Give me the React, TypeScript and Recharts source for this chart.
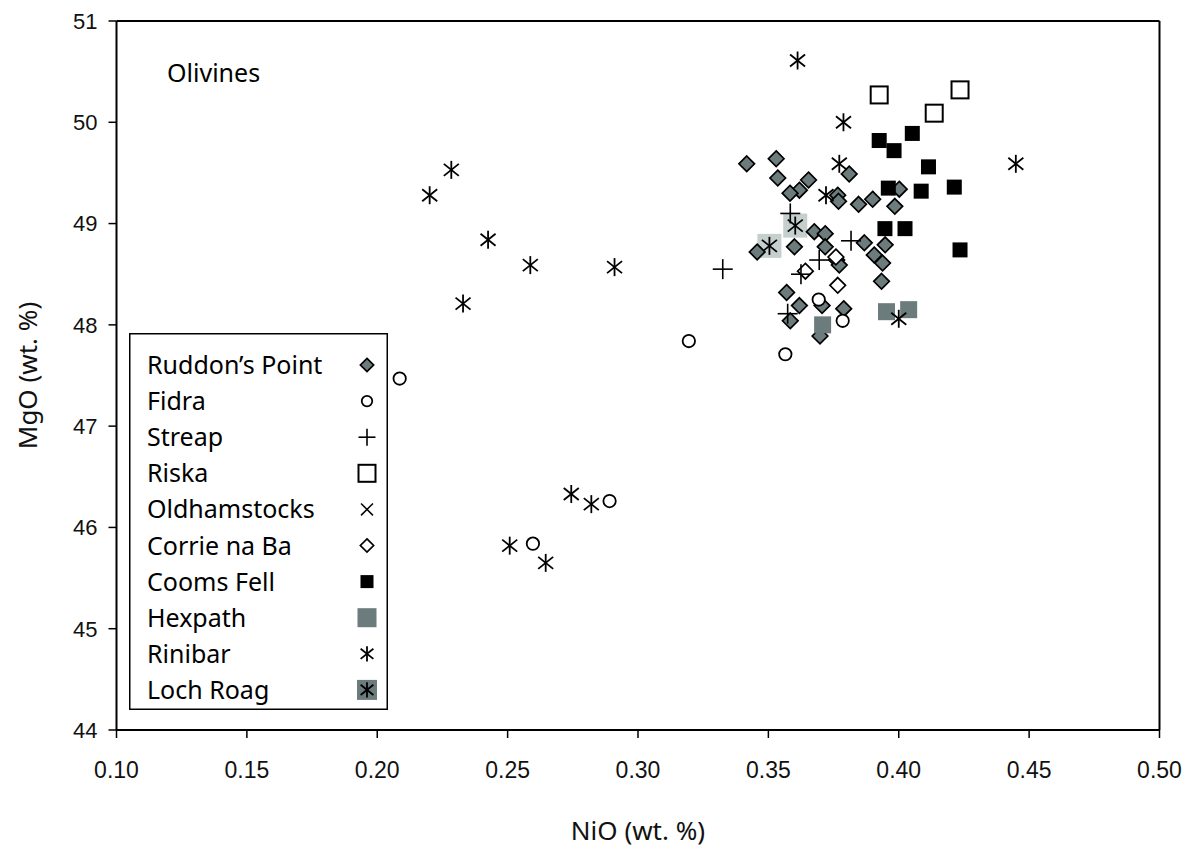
import { ScatterChart, Scatter, XAxis, YAxis, ReferenceLine, Legend } from 'recharts';

// axis ticks
const xTicks = [0.1, 0.15, 0.2, 0.25, 0.3, 0.35, 0.4, 0.45, 0.5];
const yTicks = [44, 45, 46, 47, 48, 49, 50, 51];

// NiO (x) vs MgO (y)
const ruddonsPoint = [
  { x: 0.3417, y: 49.59 }, { x: 0.353, y: 49.64 }, { x: 0.3536, y: 49.45 }, { x: 0.3654, y: 49.43 },
  { x: 0.3619, y: 49.33 }, { x: 0.3583, y: 49.3 }, { x: 0.381, y: 49.49 }, { x: 0.3766, y: 49.28 },
  { x: 0.3769, y: 49.22 }, { x: 0.3846, y: 49.19 }, { x: 0.39, y: 49.24 }, { x: 0.3985, y: 49.17 },
  { x: 0.4002, y: 49.34 }, { x: 0.3457, y: 48.72 }, { x: 0.36, y: 48.77 }, { x: 0.3676, y: 48.92 },
  { x: 0.3718, y: 48.9 }, { x: 0.3718, y: 48.77 }, { x: 0.3868, y: 48.81 }, { x: 0.3948, y: 48.79 },
  { x: 0.3906, y: 48.69 }, { x: 0.3938, y: 48.61 }, { x: 0.3934, y: 48.43 }, { x: 0.3762, y: 48.64 },
  { x: 0.3772, y: 48.59 }, { x: 0.357, y: 48.32 }, { x: 0.3619, y: 48.19 }, { x: 0.3706, y: 48.19 },
  { x: 0.3789, y: 48.16 }, { x: 0.3584, y: 48.04 }, { x: 0.3698, y: 47.89 },
];
const fidra = [
  { x: 0.2086, y: 47.47 }, { x: 0.3195, y: 47.84 }, { x: 0.2597, y: 45.84 }, { x: 0.2891, y: 46.26 },
  { x: 0.3693, y: 48.25 }, { x: 0.3785, y: 48.04 }, { x: 0.3565, y: 47.71 },
];
const streap = [
  { x: 0.3584, y: 49.1 }, { x: 0.3817, y: 48.83 }, { x: 0.3695, y: 48.64 }, { x: 0.3625, y: 48.5 },
  { x: 0.3574, y: 48.11 }, { x: 0.3325, y: 48.55 },
];
const riska = [{ x: 0.3925, y: 50.27 }, { x: 0.4235, y: 50.32 }, { x: 0.4136, y: 50.09 }];
const oldhamstocks: { x: number; y: number }[] = [];
const corrieNaBa = [{ x: 0.3759, y: 48.67 }, { x: 0.3642, y: 48.53 }, { x: 0.3766, y: 48.39 }];
const coomsFell = [
  { x: 0.3925, y: 49.82 }, { x: 0.3982, y: 49.72 }, { x: 0.4052, y: 49.89 }, { x: 0.4114, y: 49.56 },
  { x: 0.4213, y: 49.36 }, { x: 0.396, y: 49.35 }, { x: 0.4086, y: 49.32 }, { x: 0.3947, y: 48.95 },
  { x: 0.4024, y: 48.95 }, { x: 0.4235, y: 48.74 },
];
const hexpath = [{ x: 0.3708, y: 48.0 }, { x: 0.3953, y: 48.13 }, { x: 0.4038, y: 48.15 }];
const rinibar = [
  { x: 0.3612, y: 50.61 }, { x: 0.3788, y: 50.0 }, { x: 0.4449, y: 49.59 }, { x: 0.3772, y: 49.59 },
  { x: 0.3721, y: 49.28 }, { x: 0.4, y: 48.06 }, { x: 0.2284, y: 49.53 }, { x: 0.2201, y: 49.28 },
  { x: 0.2425, y: 48.84 }, { x: 0.2587, y: 48.59 }, { x: 0.291, y: 48.57 }, { x: 0.2329, y: 48.21 },
  { x: 0.2744, y: 46.33 }, { x: 0.2821, y: 46.23 }, { x: 0.2508, y: 45.82 }, { x: 0.2646, y: 45.65 },
];
const lochRoag = [{ x: 0.3603, y: 48.98 }, { x: 0.3504, y: 48.78 }];

const legendNames = [
  'Ruddon’s Point', 'Fidra', 'Streap', 'Riska', 'Oldhamstocks',
  'Corrie na Ba', 'Cooms Fell', 'Hexpath', 'Rinibar', 'Loch Roag',
];
const legendKinds = [
  'diamond', 'circle', 'plus', 'openSquare', 'cross',
  'openDiamond', 'blackSquare', 'greySquare', 'asterisk', 'lochRoag',
];

const GREY = '#6c7b7c';
const LIGHT = '#c4cfce';
const TITLE_FONT = '"Noto Sans", sans-serif';
const TICK_FONT = '"Liberation Sans", Arial, sans-serif';

function Asterisk({ cx, cy, s = 1 }: { cx: number; cy: number; s?: number }) {
  const v = 9 * s, dx = 7.5 * s, dy = 6 * s;
  return (
    <g stroke="#000" strokeWidth={1.8}>
      <line x1={cx} y1={cy - v} x2={cx} y2={cy + v} />
      <line x1={cx - dx} y1={cy - dy} x2={cx + dx} y2={cy + dy} />
      <line x1={cx - dx} y1={cy + dy} x2={cx + dx} y2={cy - dy} />
    </g>
  );
}

function Marker({ kind, cx, cy, legend = false }: { kind: string; cx: number; cy: number; legend?: boolean }) {
  if (cx == null || cy == null) return null;
  const s = legend ? 0.85 : 1;
  switch (kind) {
    case 'diamond':
    case 'openDiamond': {
      const r = 7.8 * s;
      return (
        <polygon
          points={`${cx},${cy - r} ${cx + r},${cy} ${cx},${cy + r} ${cx - r},${cy}`}
          fill={kind === 'diamond' ? GREY : '#fff'}
          stroke="#000"
          strokeWidth={1.7}
        />
      );
    }
    case 'circle':
      return <circle cx={cx} cy={cy} r={6.2 * s} fill="#fff" stroke="#000" strokeWidth={1.8} />;
    case 'plus': {
      const r = 10 * s;
      return (
        <g stroke="#000" strokeWidth={1.6}>
          <line x1={cx - r} y1={cy} x2={cx + r} y2={cy} />
          <line x1={cx} y1={cy - r} x2={cx} y2={cy + r} />
        </g>
      );
    }
    case 'cross': {
      const r = 7 * s;
      return (
        <g stroke="#000" strokeWidth={1.5}>
          <line x1={cx - r} y1={cy - r} x2={cx + r} y2={cy + r} />
          <line x1={cx - r} y1={cy + r} x2={cx + r} y2={cy - r} />
        </g>
      );
    }
    case 'openSquare': {
      const h = 8.5;
      return <rect x={cx - h} y={cy - h} width={2 * h} height={2 * h} fill="#fff" stroke="#000" strokeWidth={2} />;
    }
    case 'blackSquare': {
      const h = legend ? 6.5 : 7.5;
      return <rect x={cx - h} y={cy - h} width={2 * h} height={2 * h} fill="#000" />;
    }
    case 'greySquare': {
      const h = legend ? 9.5 : 8.5;
      return <rect x={cx - h} y={cy - h} width={2 * h} height={2 * h} fill={GREY} />;
    }
    case 'asterisk':
      return <Asterisk cx={cx} cy={cy} s={s} />;
    case 'lochRoag': {
      const h = legend ? 10 : 12;
      return (
        <g>
          <rect x={cx - h} y={cy - h} width={2 * h} height={2 * h} fill={legend ? GREY : LIGHT} />
          <Asterisk cx={cx} cy={cy} s={s} />
        </g>
      );
    }
    default:
      return null;
  }
}

const shapeOf = (kind: string) => (p: any) => <Marker kind={kind} cx={p.cx} cy={p.cy} />;

function LegendBox() {
  return (
    <svg width={259} height={377} style={{ display: 'block' }}>
      <rect x={0.75} y={0.75} width={257.5} height={375.5} fill="#fff" stroke="#000" strokeWidth={1.5} />
      {legendNames.map((name, i) => {
        const y = 32 + i * 36.1;
        return (
          <g key={name}>
            <text x={18} y={y} dy="0.36em" fontFamily={TITLE_FONT} fontSize={25} fill="#000">
              {name}
            </text>
            <Marker kind={legendKinds[i]} cx={238} cy={y} legend />
          </g>
        );
      })}
    </svg>
  );
}

export default function App() {
  // pinned to the page corner so the chart can use the full 1188x853 window
  return (
    <div style={{ position: 'absolute', left: 0, top: 0, width: 1188, height: 853 }}>
      <ScatterChart width={1188} height={853} margin={{ top: 21, right: 28.5, left: 8, bottom: 31 }}>
        <XAxis
          type="number"
          dataKey="x"
          domain={[0.1, 0.5]}
          ticks={xTicks}
          tickFormatter={(v: number) => v.toFixed(2)}
          height={92}
          tickSize={8}
          tickMargin={24}
          axisLine={{ stroke: '#000', strokeWidth: 2 }}
          tickLine={{ stroke: '#000', strokeWidth: 1.5 }}
          tick={{ fill: '#111', fontSize: 23, fontFamily: TICK_FONT }}
          label={{ value: 'NiO (wt. %)', position: 'bottom', offset: 0, fill: '#111', fontSize: 26, fontFamily: TITLE_FONT }}
        />
        <YAxis
          type="number"
          dataKey="y"
          domain={[44, 51]}
          ticks={yTicks}
          width={108.5}
          tickSize={8}
          tickMargin={11}
          axisLine={{ stroke: '#000', strokeWidth: 2 }}
          tickLine={{ stroke: '#000', strokeWidth: 1.5 }}
          tick={{ fill: '#111', fontSize: 22, fontFamily: TICK_FONT }}
          label={{
            value: 'MgO (wt. %)', angle: -90, position: 'insideLeft', offset: 20,
            style: { textAnchor: 'middle' }, fill: '#111', fontSize: 26, fontFamily: TITLE_FONT,
          }}
        />
        <ReferenceLine y={51} stroke="#000" strokeWidth={1.8} />
        <ReferenceLine x={0.5} stroke="#000" strokeWidth={2} />
        <Scatter name="Loch Roag" data={lochRoag} shape={shapeOf('lochRoag')} isAnimationActive={false} />
        <Scatter name="Ruddon’s Point" data={ruddonsPoint} shape={shapeOf('diamond')} isAnimationActive={false} />
        <Scatter name="Corrie na Ba" data={corrieNaBa} shape={shapeOf('openDiamond')} isAnimationActive={false} />
        <Scatter name="Hexpath" data={hexpath} shape={shapeOf('greySquare')} isAnimationActive={false} />
        <Scatter name="Cooms Fell" data={coomsFell} shape={shapeOf('blackSquare')} isAnimationActive={false} />
        <Scatter name="Riska" data={riska} shape={shapeOf('openSquare')} isAnimationActive={false} />
        <Scatter name="Fidra" data={fidra} shape={shapeOf('circle')} isAnimationActive={false} />
        <Scatter name="Streap" data={streap} shape={shapeOf('plus')} isAnimationActive={false} />
        <Scatter name="Oldhamstocks" data={oldhamstocks} shape={shapeOf('cross')} isAnimationActive={false} />
        <Scatter name="Rinibar" data={rinibar} shape={shapeOf('asterisk')} isAnimationActive={false} />
        <Legend
          layout="horizontal"
          verticalAlign="middle"
          align="center"
          content={() => <LegendBox />}
          wrapperStyle={{ left: 129, top: 333, width: 259, height: 377, bottom: 'auto', right: 'auto' }}
        />
      </ScatterChart>
      <div
        style={{
          position: 'absolute', left: 167, top: 55, fontFamily: TITLE_FONT, fontSize: 25,
          color: '#000', lineHeight: '34px',
        }}
      >
        Olivines
      </div>
    </div>
  );
}
